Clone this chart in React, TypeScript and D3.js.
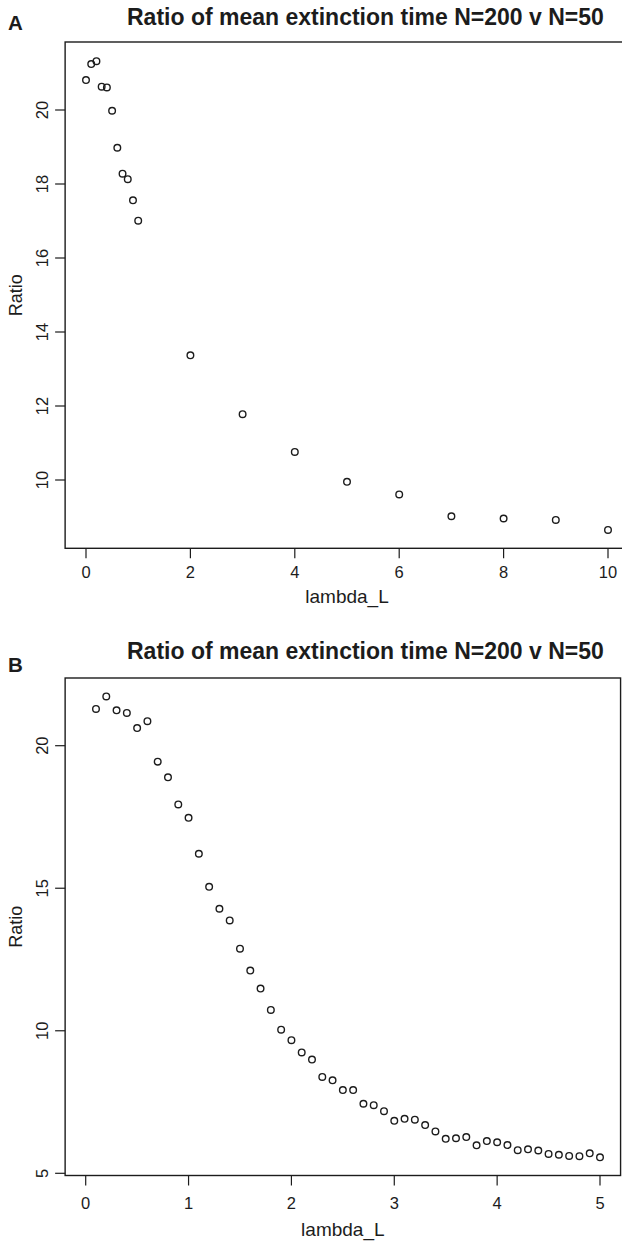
import React from "react";
import * as d3 from "d3";

const aLambda = [0, 0.1, 0.2, 0.3, 0.4, 0.5, 0.6, 0.7, 0.8, 0.9, 1.0, 2, 3, 4, 5, 6, 7, 8, 9, 10];
const aRatio = [20.81, 21.24, 21.32, 20.63, 20.61, 19.98, 18.98, 18.28, 18.13, 17.56, 17.01, 13.37, 11.78, 10.76, 9.95, 9.61, 9.02, 8.96, 8.92, 8.65];

const bLambda = [
  0.1, 0.2, 0.3, 0.4, 0.5, 0.6, 0.7, 0.8, 0.9, 1.0,
  1.1, 1.2, 1.3, 1.4, 1.5, 1.6, 1.7, 1.8, 1.9, 2.0,
  2.1, 2.2, 2.3, 2.4, 2.5, 2.6, 2.7, 2.8, 2.9, 3.0,
  3.1, 3.2, 3.3, 3.4, 3.5, 3.6, 3.7, 3.8, 3.9, 4.0,
  4.1, 4.2, 4.3, 4.4, 4.5, 4.6, 4.7, 4.8, 4.9, 5.0,
];
const bRatio = [
  21.29, 21.73, 21.24, 21.15, 20.62, 20.86, 19.44, 18.89, 17.94, 17.47,
  16.21, 15.05, 14.28, 13.87, 12.88, 12.11, 11.48, 10.73, 10.04, 9.67,
  9.24, 8.99, 8.38, 8.26, 7.92, 7.92, 7.44, 7.39, 7.18, 6.84,
  6.91, 6.88, 6.69, 6.47, 6.21, 6.23, 6.27, 5.98, 6.13, 6.09,
  5.99, 5.81, 5.84, 5.80, 5.68, 5.65, 5.61, 5.60, 5.70, 5.56,
];

const aXTicks = [0, 2, 4, 6, 8, 10];
const aYTicks = [10, 12, 14, 16, 18, 20];
const bXTicks = [0, 1, 2, 3, 4, 5];
const bYTicks = [5, 10, 15, 20];

const TITLE = "Ratio of mean extinction time N=200 v N=50";
const XLAB = "lambda_L";
const YLAB = "Ratio";
const FONT = "'Liberation Sans', Arial, Helvetica, sans-serif";
const INK = "#1c1c1c";

type PanelProps = {
  letter: string;
  xs: number[];
  ys: number[];
  xTicks: number[];
  yTicks: number[];
  x: d3.ScaleLinear<number, number>;
  y: d3.ScaleLinear<number, number>;
  xPad: number;
  box: { top: number; bottom: number };
  titleY: number;
  letterY: number;
  xTickLabelY: number;
  xLabY: number;
};

function Panel(p: PanelProps) {
  const left = p.x(p.x.domain()[0] - p.xPad);
  const right = p.x(p.x.domain()[1] + p.xPad);
  const { top, bottom } = p.box;
  const midY = (top + bottom) / 2;
  const midX = (left + right) / 2;
  return (
    <g>
      <text x={8} y={p.letterY} fontFamily={FONT} fontWeight="bold" fontSize={20.5} fill={INK}>
        {p.letter}
      </text>
      <text x={127} y={p.titleY} fontFamily={FONT} fontWeight="bold" fontSize={23} fill={INK}>
        {TITLE}
      </text>
      <rect x={left} y={top} width={right - left} height={bottom - top} fill="none" stroke={INK} strokeWidth={1.4} />
      {p.xTicks.map((t) => (
        <g key={"xt" + t}>
          <line x1={p.x(t)} x2={p.x(t)} y1={bottom} y2={bottom + 10} stroke={INK} strokeWidth={1.2} />
          <text x={p.x(t)} y={p.xTickLabelY} textAnchor="middle" fontFamily={FONT} fontSize={16.5} fill={INK}>
            {t}
          </text>
        </g>
      ))}
      {p.yTicks.map((t) => (
        <g key={"yt" + t}>
          <line x1={left - 10} x2={left} y1={p.y(t)} y2={p.y(t)} stroke={INK} strokeWidth={1.2} />
          <text
            transform={`translate(48,${p.y(t)}) rotate(-90)`}
            textAnchor="middle"
            fontFamily={FONT}
            fontSize={16.5}
            fill={INK}
          >
            {t}
          </text>
        </g>
      ))}
      <text x={midX} y={p.xLabY} textAnchor="middle" fontFamily={FONT} fontSize={19} fill={INK}>
        {XLAB}
      </text>
      <text
        transform={`translate(22,${midY}) rotate(-90)`}
        textAnchor="middle"
        fontFamily={FONT}
        fontSize={18}
        fill={INK}
      >
        {YLAB}
      </text>
      {p.xs.map((v, i) => (
        <circle key={i} cx={p.x(v)} cy={p.y(p.ys[i])} r={3.3} fill="none" stroke={INK} strokeWidth={1.4} />
      ))}
    </g>
  );
}

export default function App() {
  const xA = d3.scaleLinear().domain([0, 10]).range([86, 608]);
  const yA = d3.scaleLinear().domain([10, 20]).range([480, 110]);
  const xB = d3.scaleLinear().domain([0, 5]).range([85.7, 600]);
  const yB = d3.scaleLinear().domain([5, 20]).range([1173.3, 745.7]);
  return (
    <svg
      width={622}
      height={1243}
      style={{ position: "absolute", left: 0, top: 0, background: "#fff" }}
    >
      <rect x={0} y={0} width={622} height={1243} fill="#fff" />
      <Panel
        letter="A"
        xs={aLambda}
        ys={aRatio}
        xTicks={aXTicks}
        yTicks={aYTicks}
        x={xA}
        y={yA}
        xPad={0.4}
        box={{ top: 42, bottom: 548.3 }}
        titleY={25}
        letterY={29.5}
        xTickLabelY={577.7}
        xLabY={603}
      />
      <Panel
        letter="B"
        xs={bLambda}
        ys={bRatio}
        xTicks={bXTicks}
        yTicks={bYTicks}
        x={xB}
        y={yB}
        xPad={0.2}
        box={{ top: 678, bottom: 1175.5 }}
        titleY={659.3}
        letterY={672}
        xTickLabelY={1209}
        xLabY={1236}
      />
    </svg>
  );
}
